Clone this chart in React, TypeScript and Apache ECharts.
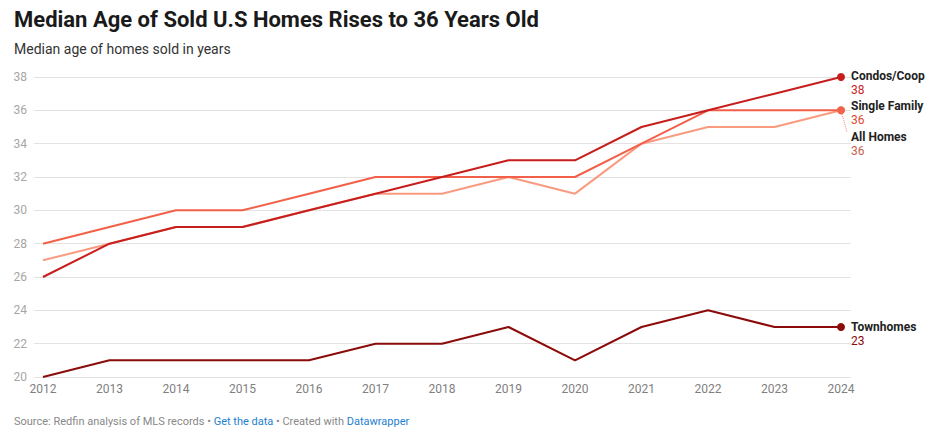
import React, { useEffect, useRef } from "react";
import * as echarts from "echarts";

const years = [2012, 2013, 2014, 2015, 2016, 2017, 2018, 2019, 2020, 2021, 2022, 2023, 2024];
const condos = [26, 28, 29, 29, 30, 31, 32, 33, 33, 35, 36, 37, 38];
const singleFamily = [28, 29, 30, 30, 31, 32, 32, 32, 32, 34, 36, 36, 36];
const allHomes = [27, 28, 29, 29, 30, 31, 31, 32, 31, 34, 35, 35, 36];
const townhomes = [20, 21, 21, 21, 21, 22, 22, 23, 21, 23, 24, 23, 23];
const yTicks = [20, 22, 24, 26, 28, 30, 32, 34, 36, 38];

const FONT = "Roboto, 'Noto Sans', sans-serif";

function pairs(vals: number[]) {
  return vals.map((v, i) => [years[i], v]);
}

export default function App() {
  const ref = useRef<HTMLDivElement>(null);
  useEffect(() => {
    document.body.style.margin = "0";
    if (!ref.current) return;
    const chart = echarts.init(ref.current, null, { renderer: "svg" });
    const last = years.length - 1;
    const mk = (name: string, vals: number[], color: string, valColor: string, z: number, dy: number, extra: any = {}) => ({
      type: "line",
      name,
      data: pairs(vals),
      z,
      symbol: "circle",
      symbolSize: (_v: any, p: any) => (p.dataIndex === last ? 8 : 0),
      showSymbol: true,
      itemStyle: { color },
      lineStyle: { color, width: 2 },
      emphasis: { disabled: true },
      endLabel: {
        show: true,
        distance: 10,
        offset: [0, dy],
        formatter: () => `{n|${name}}\n{v|${vals[last]}}`,
        rich: {
          n: { fontFamily: FONT, fontSize: 12, fontWeight: "bold", color: "#222", lineHeight: 14 },
          v: { fontFamily: FONT, fontSize: 12, color: valColor, lineHeight: 14 },
        },
      },
      ...extra,
    });
    chart.setOption({
      animation: false,
      grid: { left: 34, right: 83, top: 77, bottom: 67, containLabel: false, outerBoundsMode: "none" },
      xAxis: {
        type: "value",
        min: 2011.865,
        max: 2024.15,
        axisLine: { show: false },
        axisTick: { show: false },
        splitLine: { show: false },
        axisLabel: {
          customValues: years,
          formatter: (v: number) => String(Math.round(v)),
          color: "#808080",
          fontFamily: FONT,
          fontSize: 12,
          margin: 6,
        },
      },
      yAxis: {
        type: "value",
        min: 20,
        max: 38,
        interval: 2,
        axisLine: { show: false },
        axisTick: { show: false },
        splitLine: { lineStyle: { color: "#e3e3e3", width: 1 } },
        axisLabel: {
          customValues: yTicks,
          color: "#a6a6a6",
          fontFamily: FONT,
          fontSize: 12,
          margin: 7,
          align: "right",
        },
      },
      series: [
        mk("All Homes", allHomes, "#fa9b80", "#c0634c", 1, 34, {
          markLine: {
            silent: true,
            symbol: ["none", "none"],
            label: { show: false },
            lineStyle: { color: "#f4876c", type: "dotted", width: 1 },
            data: [[{ coord: [2024, 36] }, { coord: [2024.09, 34.7] }]],
          },
        }),
        mk("Single Family", singleFamily, "#f26049", "#e04a33", 2, 3),
        mk("Condos/Coop", condos, "#c71e1d", "#c71e1d", 3, 6),
        mk("Townhomes", townhomes, "#8b0b0b", "#8b0b0b", 4, 7),
      ],
      graphic: [
        {
          type: "text",
          left: 14,
          top: 8,
          style: { text: "Median Age of Sold U.S Homes Rises to 36 Years Old", fontFamily: FONT, fontSize: 22, fontWeight: "bold", fill: "#1a1a1a" },
        },
        {
          type: "text",
          left: 14,
          top: 42,
          style: { text: "Median age of homes sold in years", fontFamily: FONT, fontSize: 14, fill: "#333" },
        },
        {
          type: "text",
          left: 14,
          top: 416,
          style: {
            text: "{s|Source: Redfin analysis of MLS records • }{l|Get the data}{s| • Created with }{l|Datawrapper}",
            rich: {
              s: { fontFamily: FONT, fontSize: 11, fill: "#888" },
              l: { fontFamily: FONT, fontSize: 11, fill: "#1e80d0" },
            },
          },
        },
      ],
    });
    return () => chart.dispose();
  }, []);
  return <div ref={ref} style={{ width: 934, height: 444 }} />;
}
